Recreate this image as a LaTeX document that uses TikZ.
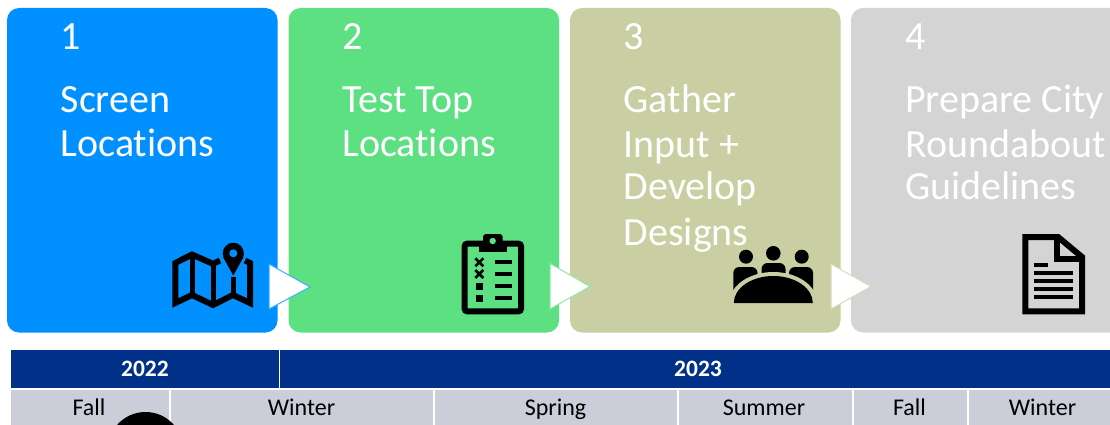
\documentclass[tikz,border=0pt]{standalone}
\usepackage{fontspec}
\setmainfont{Carlito}[Ligatures=NoCommon]
\definecolor{cardblue}{HTML}{0090FF}
\definecolor{cardgreen}{HTML}{5CE082}
\definecolor{cardolive}{HTML}{CACFA3}
\definecolor{cardgrey}{HTML}{D4D4D4}
\definecolor{headblue}{HTML}{003087}
\definecolor{rowgrey}{HTML}{CBCDD9}
\tikzset{
  card/.style={rounded corners=12pt,draw=none},
  cardtitle/.style={anchor=base west,inner sep=0pt,text=white,align=left,font=\fontsize{40}{45}\selectfont},
  playtri/.style={fill=white,line width=1pt,line join=miter},
  ink/.style={draw=black,line width=6pt,line join=miter},
  inkthin/.style={draw=black,line width=4pt},
  headcell/.style={anchor=north west,inner sep=0pt,fill=headblue,text=white,minimum height=37.5pt,font=\fontsize{23.5}{26}\selectfont\bfseries},
  rowcell/.style={anchor=north west,inner sep=0pt,fill=rowgrey,text=black,minimum height=38pt,font=\fontsize{24}{26}\selectfont},
  rule/.style={draw=white,line width=1.3pt}
}
\begin{document}
\begin{tikzpicture}[x=1pt,y=-1pt]
\useasboundingbox (0,0) rectangle (1110,425);
\clip (0,0) rectangle (1110,425);
\fill[white] (0,0) rectangle (1110,425);

% cards
\fill[card,cardblue] (7,8) rectangle (277.5,332.5);
\fill[card,cardgreen] (288.5,8) rectangle (559,332.5);
\fill[card,cardolive] (570,8) rectangle (840.5,332.5);
\fill[card,cardgrey] (851,8) rectangle (1135,332.5);

% titles
\node[cardtitle] (n1) at (60.5,50) {1};
\node[cardtitle] (t1) at (60.5,157) {Screen\\[-1pt]Locations};
\node[cardtitle] (n2) at (342,50) {2};
\node[cardtitle] (t2) at (342,157) {Test Top\\[-1pt]Locations};
\node[cardtitle] (n3) at (623.5,50) {3};
\node[cardtitle] (t3) at (623.5,245) {Gather\\Input +\\[-3pt]Develop\\[1pt]Designs};
\node[cardtitle] (n4) at (905,50) {4};
\node[cardtitle] (t4) at (905,199) {Prepare City\\Roundabout\\[-3pt]Guidelines};

% triangles
\draw[playtri,draw=cardblue!75!white] (269,264) -- (310,287) -- (269,309) -- cycle;
\draw[playtri,draw=cardgreen!70!white] (550,263.5) -- (590,286.5) -- (550,309) -- cycle;
\draw[playtri,draw=cardolive!75!white] (831,264) -- (871,286.5) -- (831,309) -- cycle;

% map icon
\draw[ink,line width=5pt] (192,256) -- (192,295);
\draw[ink,line width=5pt] (213,264) -- (213,305);
\draw[ink] (220,260.5) -- (213,263.8) -- (192,254.5) -- (175.3,263) -- (175.3,303) -- (192,295) -- (213,305) -- (233,295) -- (250,303) -- (250,263) -- (245,260.5);
\draw[ink,line width=5pt] (233,277) -- (233,295);
\fill[black] (223,257) -- (233.3,275.5) -- (243.6,257) -- cycle;
\fill[black] (233.3,253.3) circle[radius=10.6];
\fill[cardblue] (233.3,253.3) circle[radius=4];

% clipboard icon
\draw[ink,rounded corners=2.5pt] (464.7,243.7) rectangle (521,311.3);
\fill[black] (479,240.7) rectangle (506.7,252.3);
\fill[black,rounded corners=3pt] (483,234) rectangle (502.7,245);
\fill[cardgreen] (492.7,241) circle[radius=3.2];
\foreach \yy in {262.3,274}{
  \draw[black,line width=2.6pt] (475.3,\yy-4) -- (483.3,\yy+4) (483.3,\yy-4) -- (475.3,\yy+4);
}
\fill[black] (475.8,283.2) rectangle (482.8,290.2);
\fill[black] (475.8,294.8) rectangle (482.8,301.8);
\foreach \yy in {262.3,274.3,286.3,298.3}{
  \draw[inkthin] (495,\yy) -- (512,\yy);
}

% people icon
\fill[black] (746,256.7) circle[radius=7];
\fill[black] (773.3,253.3) circle[radius=7.3];
\fill[black] (801.7,256.7) circle[radius=7];
\fill[black,rounded corners=6pt] (733.3,267) rectangle (757.5,296);
\fill[black,rounded corners=6pt] (761.5,263) rectangle (785.5,290);
\fill[black,rounded corners=6pt] (789,267) rectangle (813,296);
\fill[cardolive] (729.3,303) arc[x radius=44,y radius=31,start angle=180,end angle=360] -- cycle;
\fill[cardolive] (731,290) rectangle (733.3,304);
\fill[black] (733.8,303) arc[x radius=39.5,y radius=27,start angle=180,end angle=360] -- cycle;

% document icon
\draw[ink] (1025.3,237) -- (1058,237) -- (1082,257) -- (1082,311.3) -- (1025.3,311.3) -- cycle;
\draw[ink] (1056.7,237) -- (1056.7,258.5) -- (1082,258.5);
\draw[inkthin] (1034.3,265.3) -- (1047.7,265.3);
\foreach \yy in {273.3,281.3,289.3,297.3}{
  \draw[inkthin] (1034.3,\yy) -- (1073.3,\yy);
}

% table header
\node[headcell,minimum width=268.5pt] (y22) at (10.5,350) {2022};
\node[headcell,minimum width=840pt] (y23) at (279.5,350) {};
\node[anchor=base,inner sep=0pt,text=white,font=\fontsize{23.5}{26}\selectfont\bfseries] (y23t) at (698,376) {2023};
\draw[rule] (y22.north east) -- (y22.south east);

% table second row
\node[rowcell,minimum width=159pt] (fall1) at (10.5,390) {};
\node[rowcell,minimum width=264pt] (win1) at (169.5,390) {};
\node[rowcell,minimum width=244pt] (spr) at (433.5,390) {};
\node[rowcell,minimum width=175pt] (sum) at (677.5,390) {};
\node[rowcell,minimum width=115pt] (fall2) at (852.5,390) {};
\node[rowcell,minimum width=150pt] (win2) at (967.5,390) {};
\draw[rule] (fall1.north east) -- (fall1.south east);
\draw[rule] (win1.north east) -- (win1.south east);
\draw[rule] (spr.north east) -- (spr.south east);
\draw[rule] (sum.north east) -- (sum.south east);
\draw[rule] (fall2.north east) -- (fall2.south east);
\fill[black] (145.5,449.7) circle[radius=37.7];
\foreach \nm/\xx/\tx in {a/89/Fall,b/301.5/Winter,c/555.5/Spring,d/764/Summer,e/909.5/Fall,f/1042.5/Winter}{
  \node[anchor=base,inner sep=0pt,text=black,font=\fontsize{24}{26}\selectfont] (lab\nm) at (\xx,415) {\tx};
}
\end{tikzpicture}
\end{document}
